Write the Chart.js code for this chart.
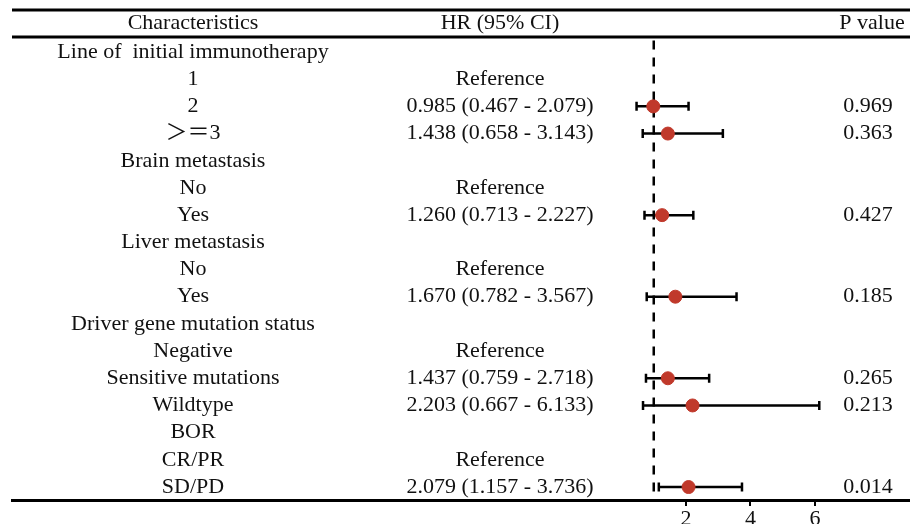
<!DOCTYPE html>
<html>
<head>
<meta charset="utf-8">
<script src="https://cdn.jsdelivr.net/npm/chart.js@4"></script>
<style>
  html, body { margin: 0; padding: 0; background: #fff; overflow: hidden; }
  #wrap { width: 910px; height: 524px; position: relative; }
</style>
</head>
<body>
<div id="wrap"><canvas id="forest"></canvas></div>
<script>
// rows of the table, top to bottom
const characteristics = ["Line of  initial immunotherapy", "1", "2", "\uFF1E\uFF1D3", "Brain metastasis", "No", "Yes",
  "Liver metastasis", "No", "Yes", "Driver gene mutation status", "Negative", "Sensitive mutations", "Wildtype",
  "BOR", "CR/PR", "SD/PD"]
const referenceRows = [1, 5, 8, 11, 15]
const hr    = [null, null, 0.985, 1.438, null, null, 1.260, null, null, 1.670, null, null, 1.437, 2.203, null, null, 2.079]
const lower = [null, null, 0.467, 0.658, null, null, 0.713, null, null, 0.782, null, null, 0.759, 0.667, null, null, 1.157]
const upper = [null, null, 2.079, 3.143, null, null, 2.227, null, null, 3.567, null, null, 2.718, 6.133, null, null, 3.736]
const pValues = ["", "", "0.969", "0.363", "", "", "0.427", "", "", "0.185", "", "", "0.265", "0.213", "", "", "0.014"]
const xTicks = [2, 4, 6]

const fonte = '22px "Liberation Serif", "Times New Roman", "Noto Sans CJK SC", serif'
const vermelho = 'rgb(192, 57, 43)'

var hrLabels = []
for (let i = 0; i < characteristics.length; i++) {
	if (referenceRows.indexOf(i) >= 0) hrLabels.push('Reference')
	else if (hr[i] != null) hrLabels.push(hr[i].toFixed(3) + ' (' + lower[i].toFixed(3) + ' - ' + upper[i].toFixed(3) + ')')
	else hrLabels.push('')
}

var pontos = []
for (let i = 0; i < hr.length; i++) {
	if (hr[i] != null) pontos.push({x: hr[i], y: i, lo: lower[i], hi: upper[i]})
}

// table text, header lines and the CI whiskers
const tabela = {
	id: 'tabela',
	beforeDatasetsDraw(chart) {
		const ctx = chart.ctx
		const x = chart.scales.x, y = chart.scales.y
		const area = chart.chartArea
		ctx.save()
		ctx.strokeStyle = '#000'
		ctx.lineWidth = 3
		ctx.beginPath()
		ctx.moveTo(area.left, 10); ctx.lineTo(area.right, 10)
		ctx.moveTo(area.left, 37); ctx.lineTo(area.right, 37)
		ctx.stroke()

		ctx.fillStyle = '#111'
		ctx.font = fonte
		ctx.textAlign = 'center'
		ctx.textBaseline = 'middle'
		ctx.fillText('Characteristics', 193, 23)
		ctx.fillText('HR (95% CI)', 500, 23)
		ctx.fillText('P value', 872, 23)

		for (let i = 0; i < characteristics.length; i++) {
			const py = y.getPixelForValue(i)
			ctx.fillText(characteristics[i], 193, py)
			ctx.fillText(hrLabels[i], 500, py)
			ctx.fillText(pValues[i], 868, py)
		}

		// whiskers
		ctx.lineWidth = 2.5
		ctx.strokeStyle = '#000'
		pontos.forEach(p => {
			const py = y.getPixelForValue(p.y)
			const x1 = x.getPixelForValue(p.lo), x2 = x.getPixelForValue(p.hi)
			ctx.beginPath()
			ctx.moveTo(x1, py); ctx.lineTo(x2, py)
			ctx.moveTo(x1, py - 4.5); ctx.lineTo(x1, py + 4.5)
			ctx.moveTo(x2, py - 4.5); ctx.lineTo(x2, py + 4.5)
			ctx.stroke()
		})
		ctx.restore()
	}
}

function semPadding(s) {
	s.paddingLeft = 0; s.paddingRight = 0; s.paddingTop = 0; s.paddingBottom = 0
}

var grafico = document.getElementById('forest').getContext('2d')
var dados = {
	type: 'scatter',
	data: {
		datasets: [{
				type: 'line',
				data: [{x: 1, y: -0.42}, {x: 1, y: 16.5}],
				borderColor: '#000',
				borderWidth: 2.5,
				borderDash: [9, 8],
				pointRadius: 0,
				order: 2
			},
			{
				data: pontos,
				backgroundColor: vermelho,
				borderColor: vermelho,
				pointRadius: 6.5,
				order: 1
		}]
	},
	options: {
		responsive: true,
		maintainAspectRatio: false,
		animation: false,
		layout: { autoPadding: false, padding: { left: 12, top: 0, right: 0, bottom: 0 } },
		plugins: {
			legend: { display: false },
			tooltip: { enabled: false }
		},
		scales: {
			x: {
				type: 'linear',
				min: -18.9,
				max: 8.946,
				afterBuildTicks: s => { s.ticks = xTicks.map(v => ({value: v})) },
				afterFit: s => { s.height = 24; semPadding(s) },
				border: { display: true, color: '#000', width: 3 },
				grid: { drawOnChartArea: false, drawTicks: true, tickLength: 6, color: '#000', lineWidth: 2 },
				ticks: { color: '#111', font: { family: '"Liberation Serif", serif', size: 22 }, padding: 0, maxRotation: 0 }
			},
			y: {
				type: 'linear',
				display: false,
				reverse: true,
				min: -1.912,
				max: 16.477,
				afterFit: semPadding
			}
		}
	},
	plugins: [tabela]
}
new Chart(grafico, dados)
</script>
</body>
</html>
